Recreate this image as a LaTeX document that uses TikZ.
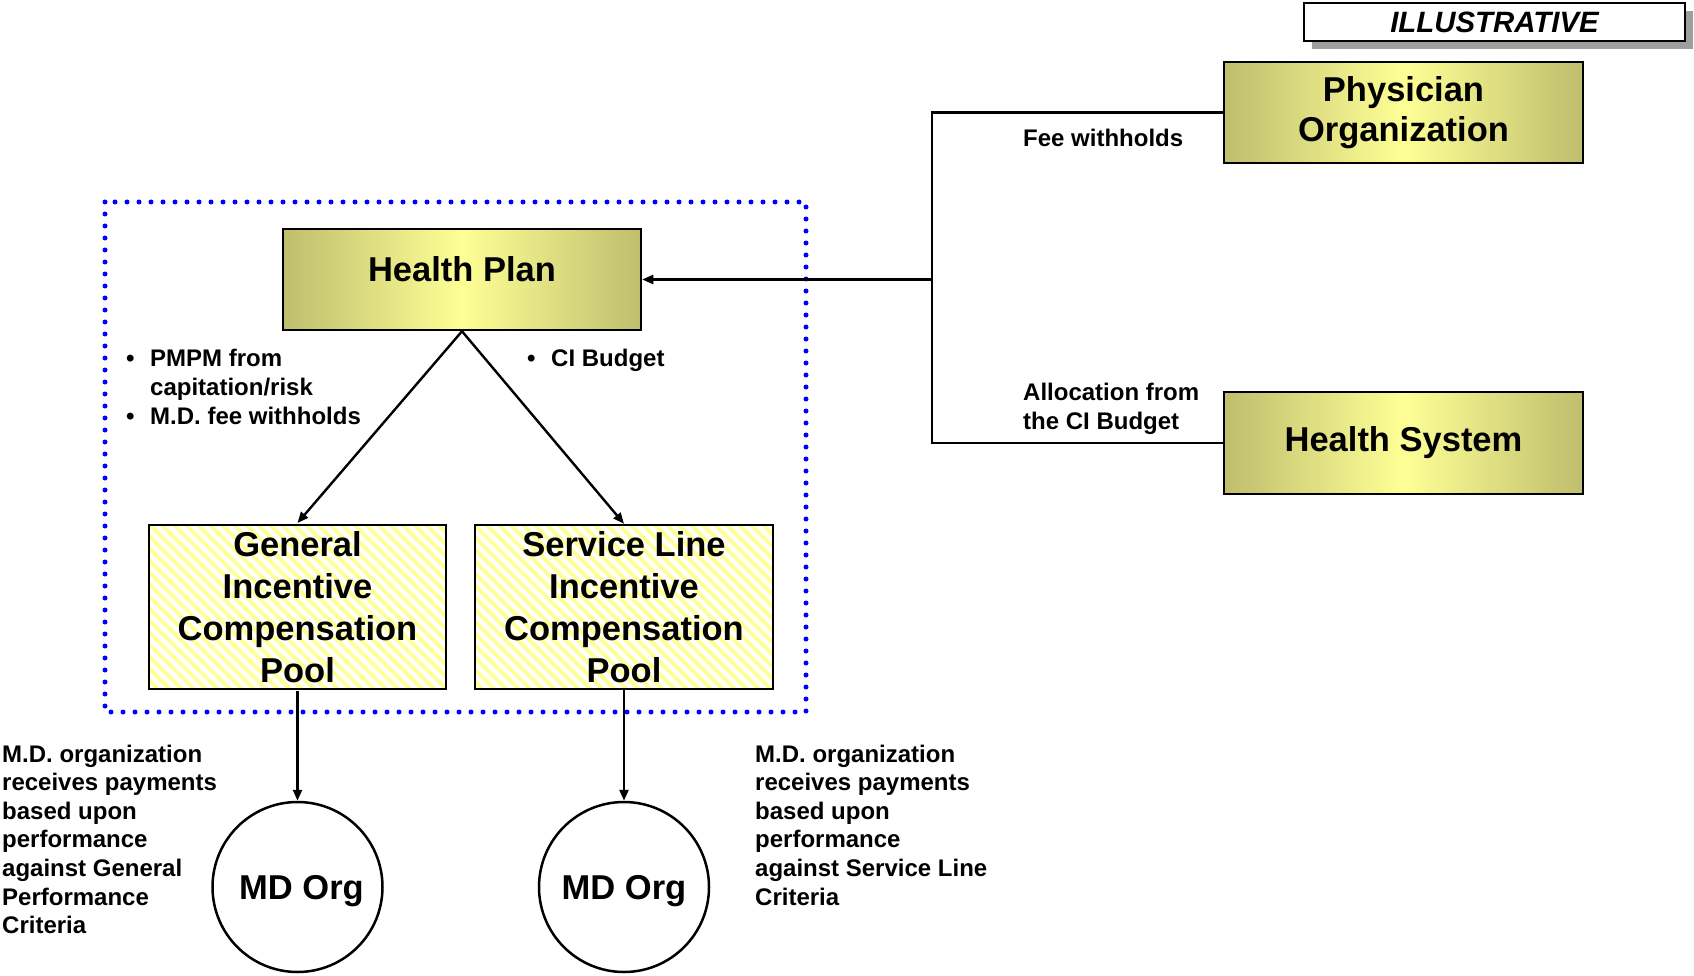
\documentclass[tikz,border=0pt]{standalone}
\usepackage{fontspec}
\setmainfont{Liberation Sans}
\usetikzlibrary{arrows.meta,patterns.meta,shadows}
\definecolor{olivebox}{RGB}{190,190,110}
\definecolor{paleyellow}{RGB}{255,255,150}
\definecolor{hatchyellow}{RGB}{255,255,150}
\begin{document}
\begin{tikzpicture}[x=1pt,y=1pt,
  bigtext/.style={font=\bfseries\fontsize{34.5}{41.8}\selectfont},
  smalltext/.style={font=\bfseries\fontsize{24}{29}\selectfont, inner sep=0pt, anchor=base west},
  desctext/.style={smalltext, font=\bfseries\fontsize{24}{28.6}\selectfont},
  goldbox/.style={draw=black, line width=2.5pt, left color=olivebox, right color=olivebox,
    middle color=paleyellow, minimum width=358pt, minimum height=101pt, inner sep=0pt,
    align=center, bigtext},
  poolbox/.style={draw=black, line width=2.5pt, preaction={fill=white},
    pattern={Lines[angle=-45,distance=8.5pt,line width=4pt]}, pattern color=hatchyellow,
    minimum width=297pt, minimum height=164pt, inner sep=0pt, align=center, bigtext},
  mdcircle/.style={circle, draw=black, line width=2.5pt, fill=white, minimum size=170pt,
    inner sep=0pt, text height=25pt, text depth=0pt, bigtext},
  conn/.style={draw=black, line width=2.4pt},
  arr/.style={conn, -{Triangle[length=11pt,width=9pt]}},
  dotframe/.style={draw=blue, line width=5pt, dash pattern=on 0pt off 12pt, line cap=round}
]
\useasboundingbox (0,0) rectangle (1694,-976);

% stamp in the upper right corner
\node[draw=black, line width=2.5pt, fill=white, minimum width=381pt, minimum height=38pt,
  inner sep=0pt, font=\bfseries\itshape\fontsize{29.4}{35}\selectfont,
  drop shadow={shadow xshift=8pt, shadow yshift=-8pt, fill=black!38, opacity=1}]
  (stamp) at (1494.5,-22) {ILLUSTRATIVE};

% funding sources
\node[goldbox, minimum width=359pt, font=\bfseries\fontsize{34.5}{40}\selectfont]
  (PO) at (1403.5,-112.5) {Physician\\Organization};
\node[goldbox, minimum width=359pt, minimum height=102pt] (HS) at (1403.5,-443) {Health System};

% health plan and its pools
\draw[dotframe] (105,-202) rectangle (806,-712);
\node[goldbox, text height=25pt, text depth=21pt] (HP) at (462,-279.5) {Health Plan};
\node[poolbox] (GP) at (297.5,-607) {General\\Incentive\\Compensation\\Pool};
\node[poolbox, minimum width=298pt] (SP) at (624,-607) {Service Line\\Incentive\\Compensation\\Pool};

% physician organisations
\node[mdcircle] (MD1) at (297.5,-887) {\hspace{8pt}MD Org};
\node[mdcircle] (MD2) at (624,-887) {MD Org};

% connectors
\coordinate (J) at (932,-279.5);
\draw[conn] (PO.west) -| (J) |- (HS.west);
\draw[arr] (J) -- (HP.east);
\draw[arr] (HP.south) -- (GP.north);
\draw[arr] (HP.south) -- (SP.north);
\draw[arr] (GP.south) -- (MD1.north);
\draw[arr] (SP.south) -- (MD2.north);

% labels
\node[smalltext] (fee) at (1023,-147) {Fee withholds};
\node[smalltext] (alloc) at (1023,-400)
  {\begin{tabular}[t]{@{}l@{}}Allocation from\\the CI Budget\end{tabular}};
\node[smalltext] (hpin) at (126,-366)
  {\begin{tabular}[t]{@{}p{24pt}@{}l@{}}\textbullet & PMPM from\\ & capitation/risk\\
   \textbullet & M.D. fee withholds\end{tabular}};
\node[smalltext] (cib) at (527,-366)
  {\begin{tabular}[t]{@{}p{24pt}@{}l@{}}\textbullet & CI Budget\end{tabular}};
\node[desctext] (gdesc) at (2,-762)
  {\begin{tabular}[t]{@{}l@{}}M.D. organization\\receives payments\\based upon\\performance\\
   against General\\Performance\\Criteria\end{tabular}};
\node[desctext] (sdesc) at (755,-762)
  {\begin{tabular}[t]{@{}l@{}}M.D. organization\\receives payments\\based upon\\performance\\
   against Service Line\\Criteria\end{tabular}};
\end{tikzpicture}
\end{document}
